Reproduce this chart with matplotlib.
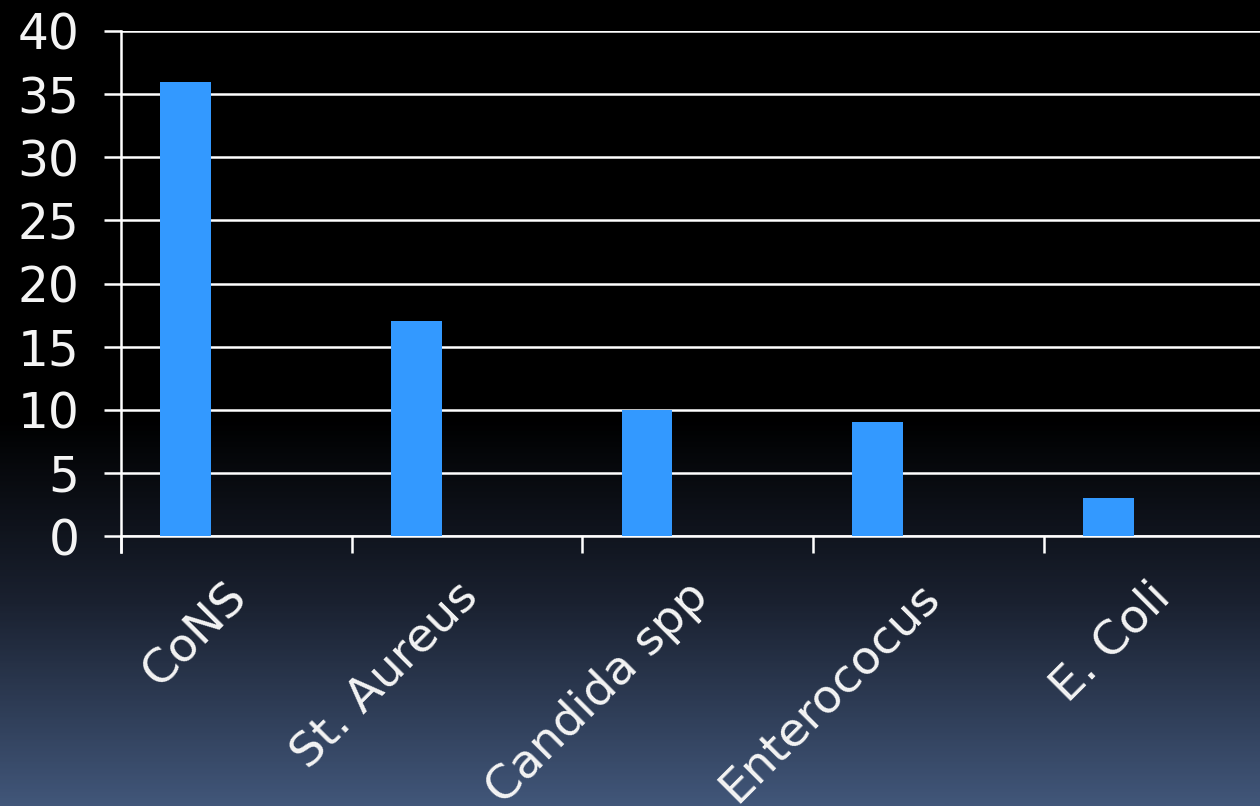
import numpy as np
import matplotlib.pyplot as plt
import matplotlib.transforms as mtransforms
from matplotlib.colors import LinearSegmentedColormap

# data
categories = ["CoNS", "St. Aureus", "Candida spp", "Enterococus", "E. Coli"]
counts = [36, 17, 10, 9, 3]
y_ticks = [0, 5, 10, 15, 20, 25, 30, 35, 40]

W, H = 1260, 806
fig = plt.figure(figsize=(W / 100, H / 100), dpi=100)

# background gradient: black top, slate blue at the bottom
bg = fig.add_axes([0, 0, 1, 1], zorder=-10)
cmap = LinearSegmentedColormap.from_list(
    "bg", [(0.0, "#000000"), (0.52, "#000000"), (0.75, "#1a2130"), (1.0, "#415679")])
grad = np.linspace(0, 1, 400).reshape(-1, 1)
bg.imshow(grad, aspect="auto", cmap=cmap, extent=[0, 1, 0, 1], origin="upper")
bg.axis("off")

step = 230.7
ax = fig.add_axes([121 / W, (H - 536) / H, 5 * step / W, (536 - 31) / H])
ax.patch.set_alpha(0)

x = np.arange(len(categories))
# first series slot of a clustered layout, so bars sit left of centre
ax.bar(x - 0.22, counts, width=0.22, color="#3399ff", zorder=3)

ax.set_xlim(-0.5, len(categories) - 0.5)
ax.set_ylim(0, 40)
ax.set_yticks(y_ticks)
ax.yaxis.grid(True, color="white", linewidth=1.8, zorder=1)
ax.set_axisbelow(True)

for s in ["top", "right"]:
    ax.spines[s].set_visible(False)
ax.spines["left"].set_color("white")
ax.spines["left"].set_linewidth(1.8)
ax.spines["bottom"].set_color("white")
ax.spines["bottom"].set_linewidth(1.8)
ax.spines["left"].set_bounds(-1.3, 40)

ax.tick_params(axis="y", colors="white", labelsize=35, length=12, width=1.8, pad=18)
for lab in ax.get_yticklabels():
    lab.set_color("#f4f4f4")

# ticks between categories
ax.set_xticks(np.arange(len(categories)) - 0.5)
ax.set_xticklabels([])
ax.tick_params(axis="x", colors="white", length=12, width=1.8)

offset = mtransforms.ScaledTranslation(0.2, -0.38, fig.dpi_scale_trans)
for i, name in enumerate(categories):
    ax.text(i, 0, name, rotation=45, ha="right", va="top", fontsize=34,
            color="#f4f4f4", transform=ax.get_xaxis_transform() + offset,
            clip_on=False)

fig.savefig("out.png", dpi=100)
